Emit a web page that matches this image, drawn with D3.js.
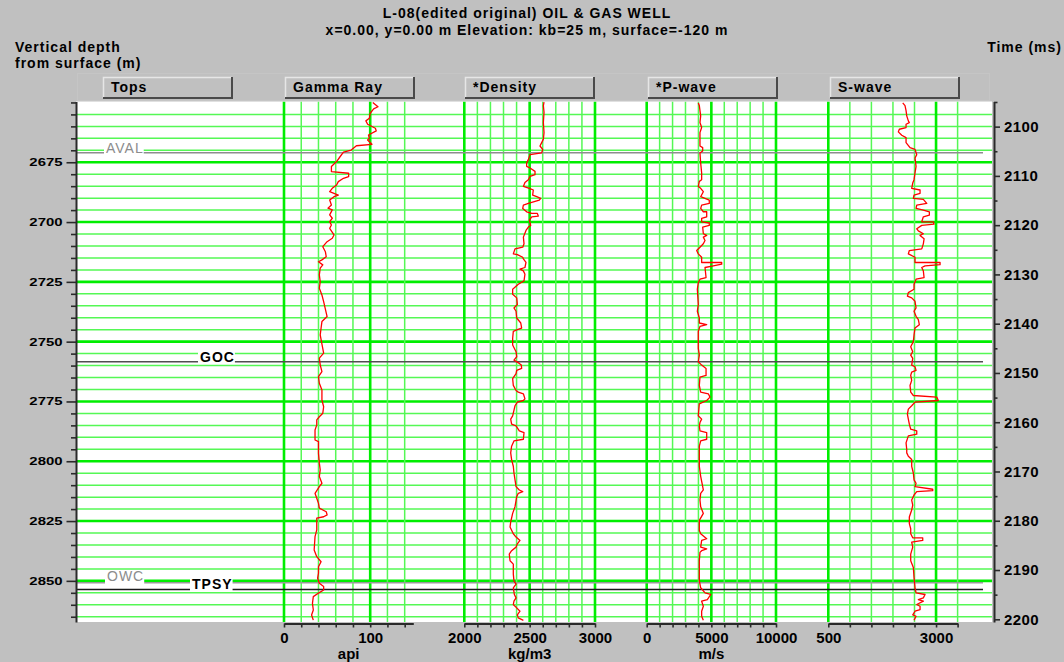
<!DOCTYPE html>
<html>
<head>
<meta charset="utf-8">
<script src="https://cdn.jsdelivr.net/npm/d3@7"></script>
<style>
  html, body { margin: 0; padding: 0; background: #c0c0c0; }
  svg { display: block; }
</style>
</head>
<body>
<svg id="chart" width="1064" height="662"></svg>
<script>
// ---------------------------------------------------------------------------
// Well L-08 log data: [depth (m below surface), value]
// ---------------------------------------------------------------------------
const gammaRay = [
  [2650.0,103],[2651.8,109],[2652.7,104],[2654.5,100],[2656.6,99],[2657.7,95],[2659.1,97],
  [2660.8,106],[2661.9,107],[2663.6,98],[2665.0,99],[2665.7,97],[2667.5,102],[2668.1,84],
  [2669.9,78],[2670.8,69],[2672.7,65],[2674.7,61],[2676.8,55],[2678.9,55],[2679.6,75],
  [2681.0,75],[2681.7,69],[2683.1,63],[2684.5,61],[2685.9,56],[2687.3,53],[2688.7,63],
  [2689.4,58],[2690.8,53],[2692.9,55],[2694.2,51],[2694.9,56],[2697.0,53],[2698.4,56],
  [2699.8,53],[2701.2,55],[2702.6,53],[2705.4,58],[2706.8,56],[2708.2,50],[2710.3,45],
  [2712.4,48],[2714.5,49],[2715.8,44],[2716.6,40],[2717.9,45],[2719.3,42],[2722.1,41],
  [2724.9,42],[2727.7,41],[2730.5,44],[2733.3,46],[2739.5,50],[2741.6,44],[2744.4,43],
  [2747.2,42],[2754.8,46],[2756.9,41],[2759.7,42],[2762.5,44],[2764.6,40],[2767.4,41],
  [2770.2,44],[2774.4,44],[2777.2,46],[2779.9,45],[2781.4,41],[2782.7,38],[2784.8,38],
  [2786.9,36],[2791.1,36],[2791.8,40],[2796.7,40],[2800.8,41],[2803.6,42],[2806.4,41],
  [2809.2,44],[2810.6,41],[2813.4,36],[2815.5,38],[2817.6,40],[2819.6,41],[2821.1,49],
  [2822.4,50],[2823.2,46],[2823.8,38],[2828.7,38],[2831.5,36],[2837.1,35],[2839.9,38],
  [2842.0,43],[2844.1,40],[2846.8,40],[2848.9,39],[2851.0,41],[2852.4,46],[2853.8,46],
  [2854.9,41],[2856.6,34],[2859.4,33],[2862.2,34],[2864.3,32],[2866.4,34]
];

const density = [
  [2649.9,2610],[2651.3,2605],[2654.1,2610],[2658.4,2605],[2662.6,2610],[2665.4,2605],
  [2666.8,2592],[2668.2,2579],[2669.6,2600],[2671.1,2592],[2671.8,2503],[2673.9,2490],
  [2675.3,2477],[2676.7,2477],[2677.4,2503],[2678.8,2541],[2680.2,2541],[2680.9,2503],
  [2682.3,2490],[2683.5,2464],[2685.1,2452],[2685.9,2498],[2686.6,2528],[2688.7,2523],
  [2689.4,2554],[2690.1,2584],[2690.8,2574],[2692.2,2490],[2692.9,2452],[2694.3,2447],
  [2695.7,2477],[2696.4,2516],[2696.4,2559],[2697.5,2566],[2697.8,2516],[2699.2,2498],
  [2701.4,2508],[2702.1,2490],[2703.5,2472],[2706.3,2452],[2709.1,2457],[2710.5,2447],
  [2711.2,2388],[2713.3,2375],[2713.6,2406],[2714.7,2447],[2715.4,2452],[2716.9,2472],
  [2719.0,2464],[2719.7,2426],[2720.4,2452],[2721.8,2464],[2724.6,2457],[2726.0,2413],
  [2728.1,2370],[2730.2,2370],[2731.7,2401],[2734.5,2406],[2735.9,2380],[2737.3,2396],
  [2740.1,2401],[2742.2,2432],[2744.3,2439],[2745.0,2406],[2745.7,2375],[2748.6,2370],
  [2751.4,2370],[2754.2,2396],[2756.3,2401],[2757.7,2380],[2759.1,2421],[2759.8,2436],
  [2761.2,2439],[2762.0,2401],[2763.4,2396],[2765.5,2370],[2768.3,2375],[2770.4,2396],
  [2771.1,2413],[2771.8,2452],[2773.9,2464],[2774.6,2452],[2775.3,2406],[2776.8,2388],
  [2781.0,2370],[2782.4,2355],[2784.5,2362],[2785.2,2396],[2787.3,2421],[2788.0,2457],
  [2790.8,2452],[2791.5,2380],[2793.7,2362],[2796.5,2355],[2799.3,2362],[2802.1,2375],
  [2804.9,2380],[2807.8,2388],[2810.6,2396],[2812.0,2421],[2812.7,2447],[2813.4,2413],
  [2814.8,2401],[2819.0,2388],[2821.8,2370],[2825.4,2355],[2827.5,2350],[2830.3,2375],
  [2831.7,2396],[2833.1,2426],[2834.5,2406],[2835.9,2396],[2837.4,2362],[2838.8,2344],
  [2841.6,2350],[2843.0,2375],[2847.2,2375],[2850.0,2380],[2851.4,2396],[2852.9,2375],
  [2855.7,2383],[2857.1,2396],[2858.5,2380],[2859.9,2375],[2861.3,2401],[2862.7,2426],
  [2864.2,2406],[2865.5,2413],[2866.5,2452]
];

const pWave = [
  [2650.2,3990],[2651.3,4070],[2655.6,4175],[2658.4,4120],[2660.5,4250],[2662.6,4120],
  [2668.2,4120],[2668.9,4330],[2670.3,4330],[2671.1,4120],[2675.3,4175],[2679.5,4250],
  [2682.3,4250],[2683.0,4070],[2685.1,3990],[2685.9,4175],[2687.3,4380],[2689.4,4175],
  [2690.8,4840],[2692.2,4840],[2692.9,4250],[2694.3,4175],[2695.7,4380],[2695.7,4640],
  [2697.8,4640],[2698.5,4250],[2699.9,4250],[2700.4,4840],[2701.4,4840],[2702.1,4330],
  [2704.9,4380],[2705.6,4640],[2706.3,4380],[2707.7,4510],[2709.1,4380],[2710.5,4120],
  [2711.9,3865],[2713.3,3990],[2714.7,4250],[2716.9,4250],[2716.9,5800],[2717.6,5800],
  [2718.3,5150],[2719.0,4510],[2723.2,4590],[2723.9,4120],[2725.3,3990],[2728.1,3915],
  [2734.5,3990],[2737.3,3915],[2740.1,4070],[2742.2,4070],[2742.9,4640],[2743.6,4120],
  [2745.7,3990],[2752.8,3990],[2755.6,4070],[2758.4,3990],[2759.8,4250],[2761.2,4590],
  [2764.1,4590],[2764.8,4120],[2768.3,4070],[2771.1,4175],[2771.8,4765],[2773.2,4895],
  [2774.6,4640],[2776.0,4070],[2781.0,3990],[2782.4,4250],[2783.8,4120],[2785.2,4070],
  [2787.3,4120],[2788.0,4640],[2790.8,4640],[2791.5,4175],[2793.7,4070],[2802.1,4070],
  [2806.3,4175],[2812.0,4380],[2813.4,4175],[2816.2,4120],[2819.0,4175],[2821.8,4380],
  [2824.7,4070],[2828.9,4070],[2830.3,4175],[2832.4,4640],[2833.1,4250],[2835.9,4175],
  [2836.6,4640],[2837.4,4250],[2838.1,4120],[2841.6,4070],[2850.0,4070],[2852.9,4175],
  [2855.0,4510],[2855.7,4950],[2857.8,4690],[2858.5,4250],[2860.6,4380],[2862.7,4250],
  [2864.8,4250],[2866.5,4380]
];

const sWave = [
  [2650.2,2227],[2651.3,2280],[2653.4,2304],[2655.6,2320],[2657.7,2357],[2658.4,2380],
  [2659.1,2304],[2660.5,2304],[2661.2,2148],[2662.3,2125],[2663.7,2204],[2664.7,2304],
  [2666.8,2304],[2668.9,2396],[2669.6,2512],[2671.8,2552],[2673.2,2512],[2676.7,2536],
  [2679.5,2512],[2682.3,2489],[2683.7,2459],[2685.9,2435],[2686.6,2629],[2688.0,2629],
  [2688.7,2489],[2690.1,2473],[2690.5,2705],[2692.2,2784],[2692.9,2552],[2694.3,2536],
  [2695.0,2705],[2695.7,2845],[2697.1,2845],[2697.8,2705],[2699.9,2668],[2699.9,2937],
  [2700.9,2953],[2701.4,2668],[2702.8,2552],[2703.7,2589],[2704.9,2705],[2705.6,2629],
  [2707.0,2722],[2709.1,2705],[2711.2,2668],[2711.9,2380],[2713.3,2357],[2714.7,2512],
  [2716.9,2512],[2716.9,3093],[2717.8,3093],[2718.3,2745],[2719.0,2668],[2720.4,2705],
  [2723.2,2722],[2723.9,2536],[2726.0,2489],[2728.1,2489],[2729.5,2357],[2731.0,2335],
  [2731.7,2435],[2733.1,2512],[2735.9,2536],[2737.3,2489],[2739.4,2536],[2740.8,2589],
  [2742.9,2612],[2744.3,2512],[2747.2,2489],[2750.0,2473],[2752.1,2412],[2754.2,2459],
  [2755.6,2412],[2757.0,2459],[2759.8,2435],[2760.5,2512],[2762.0,2536],[2762.7,2435],
  [2764.1,2412],[2766.2,2435],[2768.3,2396],[2771.1,2412],[2772.5,2473],[2773.2,3016],
  [2774.6,3053],[2775.3,2512],[2776.8,2435],[2778.2,2357],[2780.3,2335],[2782.4,2357],
  [2784.5,2380],[2786.6,2412],[2787.3,2552],[2788.7,2552],[2789.4,2357],[2792.3,2304],
  [2795.1,2320],[2796.5,2320],[2797.9,2357],[2799.3,2435],[2802.1,2435],[2804.9,2473],
  [2807.8,2489],[2809.2,2536],[2810.6,2512],[2811.7,2923],[2812.3,2923],[2812.7,2552],
  [2814.1,2489],[2816.2,2435],[2818.3,2459],[2820.4,2435],[2823.3,2380],[2826.1,2380],
  [2828.2,2412],[2830.3,2412],[2832.0,2459],[2832.0,2691],[2833.1,2691],[2833.8,2435],
  [2835.9,2459],[2838.8,2412],[2841.6,2412],[2844.4,2473],[2848.6,2489],[2852.9,2512],
  [2855.0,2536],[2855.7,2745],[2857.1,2705],[2857.8,2589],[2858.5,2705],[2859.9,2552],
  [2860.6,2629],[2862.0,2629],[2862.7,2512],[2864.2,2459],[2864.8,2536],[2866.5,2489]
];

// Formation tops and fluid contacts
const topNames  = ["AVAL", "GOC", "OWC", "TPSY"];
const topDepths = [2671.0, 2758.4, 2850.8, 2853.6];

// Track definitions
const trackNames   = ["Gamma Ray", "*Density", "*P-wave", "S-wave"];
const trackUnits   = ["api", "kg/m3", "m/s", ""];
const trackDomains = [[0, 150], [2000, 3000], [0, 10000], [500, 3500]];
const trackTicks   = [
  [0, 20, 40, 60, 80, 100, 120, 140],
  [2000, 2100, 2200, 2300, 2400, 2500, 2600, 2700, 2800, 2900, 3000],
  [0, 1000, 2000, 3000, 4000, 5000, 6000, 7000, 8000, 9000, 10000],
  [500, 1000, 1500, 2000, 2500, 3000, 3500]
];
const trackMajor   = [[0, 100], [2000, 2500, 3000], [0, 5000, 10000], [500, 3000]];
const trackCurves  = [gammaRay, density, pWave, sWave];

// Vertical axes
const depthDomain = [2649.6, 2867.2];
const timeDomain  = [2094.9, 2200.55];
const depthLabels = [2675, 2700, 2725, 2750, 2775, 2800, 2825, 2850];
const timeLabels  = [2100, 2110, 2120, 2130, 2140, 2150, 2160, 2170, 2180, 2190, 2200];

// Titles
const titleLines = ["L-08(edited original) OIL & GAS WELL",
                    "x=0.00, y=0.00 m Elevation: kb=25 m, surface=-120 m"];

// ---------------------------------------------------------------------------
// Layout
// ---------------------------------------------------------------------------
const W = 1064, H = 662;
const plot = { left: 76, right: 992, top: 101.5, bottom: 622 };
const trackLeft  = [284, 464.3, 646.7, 828.3];
const trackRight = [413.3, 595, 776, 957.6];
const buttonX = [103, 285, 465, 648, 830];
const FONT = '"Liberation Sans", Arial, Helvetica, sans-serif';
const GREEN_THIN = "#55f855", GREEN_THICK = "#00ee00";

const svg = d3.select("#chart");
svg.append("rect").attr("width", W).attr("height", H).attr("fill", "#c0c0c0");

const depth = d3.scaleLinear().domain(depthDomain).range([plot.top, plot.bottom]);
const time  = d3.scaleLinear().domain(timeDomain).range([plot.top, plot.bottom]);
const tracks = trackNames.map((name, i) => ({
  name, unit: trackUnits[i], ticks: trackTicks[i], major: trackMajor[i], data: trackCurves[i],
  x: d3.scaleLinear().domain(trackDomains[i]).range([trackLeft[i], trackRight[i]])
}));

// ---- titles ----------------------------------------------------------------
const txt = (sel) => sel.attr("font-family", FONT).attr("font-weight", "bold")
  .attr("font-size", 14).attr("letter-spacing", 1).attr("fill", "#000");

titleLines.forEach((t, i) => {
  svg.append("text").call(txt).attr("x", 527).attr("y", 18 + i * 17)
    .attr("text-anchor", "middle").text(t);
});
svg.append("text").call(txt).attr("x", 15).attr("y", 52).text("Vertical depth");
svg.append("text").call(txt).attr("x", 15).attr("y", 68).text("from surface (m)");
svg.append("text").call(txt).attr("x", 1062).attr("y", 52).attr("text-anchor", "end").text("Time (ms)");

// ---- header panel with track buttons ----------------------------------------
const panel = svg.append("g");
panel.append("rect").attr("x", 77.5).attr("y", 73.5).attr("width", 912).attr("height", 27)
  .attr("fill", "none").attr("stroke", "#7c7c7c").attr("stroke-dasharray", "1 1");
panel.append("rect").attr("x", 77.5).attr("y", 73.5).attr("width", 912).attr("height", 27)
  .attr("fill", "none").attr("stroke", "#ececec").attr("stroke-dasharray", "1 1")
  .attr("stroke-dashoffset", 1);

const buttonLabels = ["Tops"].concat(trackNames);
buttonLabels.forEach((label, i) => {
  const x = buttonX[i], y = 77, w = 129, h = 21;
  const b = panel.append("g");
  b.append("rect").attr("x", x).attr("y", y).attr("width", w).attr("height", h).attr("fill", "#c0c0c0");
  b.append("path").attr("d", `M${x + 0.5},${y + h} V${y + 0.5} H${x + w}`)
    .attr("fill", "none").attr("stroke", "#e6e6e6").attr("stroke-width", 1.5);
  b.append("path").attr("d", `M${x + w},${y} V${y + h} H${x}`)
    .attr("fill", "none").attr("stroke", "#4a4a4a").attr("stroke-width", 2);
  b.append("text").call(txt).attr("x", x + 8).attr("y", y + 15).text(label);
});

// ---- plot area ---------------------------------------------------------------
svg.append("rect").attr("x", plot.left).attr("y", plot.top)
  .attr("width", plot.right - plot.left).attr("height", plot.bottom - plot.top).attr("fill", "#fff");

svg.append("clipPath").attr("id", "plot-clip").append("rect")
  .attr("x", plot.left).attr("y", plot.top)
  .attr("width", plot.right - plot.left).attr("height", plot.bottom - plot.top);

const grid = svg.append("g").attr("clip-path", "url(#plot-clip)");

// horizontal depth grid every 5 m, heavier every 25 m
const gridDepths = d3.range(2655, 2866, 5);
grid.selectAll("line.h").data(gridDepths).join("line")
  .attr("x1", plot.left).attr("x2", plot.right)
  .attr("y1", d => depth(d)).attr("y2", d => depth(d))
  .attr("stroke", d => d % 25 === 0 ? GREEN_THICK : GREEN_THIN)
  .attr("stroke-width", d => d % 25 === 0 ? 2.6 : 1.5);

// vertical value grid per track
tracks.forEach(t => {
  grid.append("g").selectAll("line").data(t.ticks).join("line")
    .attr("x1", d => t.x(d)).attr("x2", d => t.x(d))
    .attr("y1", plot.top).attr("y2", plot.bottom)
    .attr("stroke", d => t.major.includes(d) ? GREEN_THICK : GREEN_THIN)
    .attr("stroke-width", d => t.major.includes(d) ? 2.6 : 1.5);
});

// ---- formation tops ------------------------------------------------------------
const topStyle = {
  AVAL: { line: "#8e8e8e", text: "#8c8c8c", weight: "normal", x: 106, lift: 0 },
  GOC:  { line: "#4f4f4f", text: "#000",    weight: "bold",   x: 200, lift: 0 },
  OWC:  { line: "#9a9a9a", text: "#8c8c8c", weight: "normal", x: 107, lift: 1.5 },
  TPSY: { line: "#1a1a1a", text: "#000",    weight: "bold",   x: 192, lift: 0 }
};
const topsG = svg.append("g");
topNames.forEach((name, i) => {
  const y = depth(topDepths[i]);
  const s = topStyle[name];
  topsG.append("line").attr("x1", plot.left).attr("x2", 983).attr("y1", y).attr("y2", y)
    .attr("stroke", s.line).attr("stroke-width", 1.5);
});
topNames.forEach((name, i) => {
  const y = depth(topDepths[i]);
  const s = topStyle[name];
  const g = topsG.append("g");
  const bg = g.append("rect").attr("fill", "#fff");
  const label = g.append("text").attr("font-family", FONT).attr("font-size", 14)
    .attr("font-weight", s.weight).attr("letter-spacing", 1).attr("fill", s.text)
    .attr("x", s.x).attr("y", y - s.lift).text(name);
  const bb = label.node().getBBox();
  bg.attr("x", bb.x - 2).attr("y", bb.y + 2).attr("width", bb.width + 2)
    .attr("height", y + 1.5 - (bb.y + 2));
});

// ---- log curves -------------------------------------------------------------------
const curves = svg.append("g").attr("clip-path", "url(#plot-clip)");
tracks.forEach(t => {
  const line = d3.line().x(d => t.x(d[1])).y(d => depth(d[0]));
  curves.append("path").datum(t.data).attr("d", line)
    .attr("fill", "none").attr("stroke", "#ff0000").attr("stroke-width", 1.3)
    .attr("stroke-linejoin", "round");
});

// ---- axes ---------------------------------------------------------------------------
const styleAxis = (g) => {
  g.attr("font-family", FONT).attr("font-weight", "bold");
  g.select(".domain").attr("stroke", "#2a2a2a").attr("stroke-width", 2);
  g.selectAll(".tick line").attr("stroke", "#2a2a2a").attr("stroke-width", 1.6);
  g.selectAll(".tick text").attr("fill", "#000");
};

// depth axis (left)
const depthTicks = d3.range(2650, 2866, 5);
const leftAxis = svg.append("g").attr("transform", `translate(${plot.left},0)`)
  .call(d3.axisLeft(depth).tickValues(depthTicks).tickSize(5).tickSizeOuter(0)
    .tickFormat(d => depthLabels.includes(d) ? d : ""));
leftAxis.call(styleAxis).attr("font-size", 10.5);
leftAxis.selectAll(".tick").filter(d => depthLabels.includes(d)).select("line").attr("x2", -9.5);
leftAxis.selectAll(".tick text").attr("transform", "scale(1.42,1)").attr("x", -13.5 / 1.42);

// time axis (right)
const timeTicks = d3.range(2095, 2201, 5);
const rightAxis = svg.append("g").attr("transform", `translate(994,0)`)
  .call(d3.axisRight(time).tickValues(timeTicks).tickSize(3.5).tickSizeOuter(0)
    .tickFormat(d => timeLabels.includes(d) ? d : ""));
rightAxis.call(styleAxis).attr("font-size", 15);
rightAxis.selectAll(".tick").filter(d => timeLabels.includes(d)).select("line").attr("x2", 6);
rightAxis.selectAll(".tick text").attr("x", 10).attr("letter-spacing", 0.4);

// track value axes (bottom)
tracks.forEach(t => {
  const ax = svg.append("g").attr("transform", `translate(0,${plot.bottom + 1.5})`)
    .call(d3.axisBottom(t.x).tickValues(t.ticks).tickSize(4).tickSizeOuter(0)
      .tickFormat(d => t.major.includes(d) ? d : ""));
  ax.call(styleAxis).attr("font-size", 15);
  ax.selectAll(".tick text").attr("y", 8.5);
  const [a, b] = t.x.range();
  svg.append("text").attr("font-family", FONT).attr("font-weight", "bold").attr("font-size", 15)
    .attr("text-anchor", "middle").attr("x", (a + b) / 2).attr("y", 659).text(t.unit);
});
</script>
</body>
</html>
